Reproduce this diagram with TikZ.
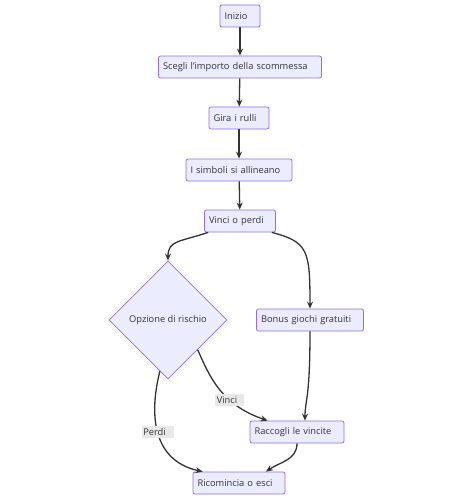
\documentclass[tikz,border=0pt]{standalone}
\usepackage{fontspec}
\setmainfont{Open Sans}
\usetikzlibrary{shapes.geometric,arrows.meta}
\definecolor{boxfill}{HTML}{ECECFF}
\definecolor{boxline}{HTML}{9370DB}
\definecolor{edgeline}{HTML}{333333}
\definecolor{labelbg}{HTML}{E8E8E8}
\tikzset{
  stepbox/.style={draw=boxline,fill=boxfill,rounded corners=2pt,line width=0.8pt,
    minimum height=22pt,inner xsep=4.5pt,inner ysep=0pt,align=left,
    font=\fontsize{9.3}{11}\selectfont,text=edgeline,text width=#1},
  choice/.style={draw=boxline,fill=boxfill,line width=0.8pt,shape=diamond,aspect=1,
    minimum width=118pt,minimum height=118pt,inner sep=0pt,
    font=\fontsize{9.3}{11}\selectfont,text=edgeline},
  flow/.style={draw=edgeline,line width=1.3pt,-{Stealth[length=7pt,width=6pt]}},
  tag/.style={fill=labelbg,text=edgeline,inner xsep=1.5pt,inner ysep=0pt,minimum height=12pt,
    align=left,font=\fontsize{9.3}{11}\selectfont,text width=#1}
}
\begin{document}
\begin{tikzpicture}[x=1pt,y=-1pt]
			\useasboundingbox[fill=white] (0,0) rectangle (473,500);
			\node[stepbox=31pt] (start) at (240,16) {Inizio};
			\node[stepbox=154pt] (bet) at (240,67) {Scegli l'importo della scommessa};
			\node[stepbox=51pt] (spin) at (239,118) {Gira i rulli};
			\node[stepbox=97pt] (line) at (239,170) {I simboli si allineano};
			\node[stepbox=62pt] (result) at (240,221) {Vinci o perdi};
			\node[choice] (risk) at (168,320) {Opzione di rischio};
			\node[stepbox=98pt] (bonus) at (310,320) {Bonus giochi gratuiti};
			\node[stepbox=85pt] (collect) at (297,432) {Raccogli le vincite};
			\node[stepbox=83pt] (again) at (239,483) {Ricomincia o esci};
			
			\draw[flow] (start) -- (bet);
			\draw[flow] (bet) -- (spin);
			\draw[flow] (spin) -- (line);
			\draw[flow] (line) -- (result);
			\draw[flow] ([xshift=4pt]result.south west) .. controls (180,242) and (168,240) .. (risk.north);
			\draw[flow] ([xshift=-4pt]result.south east) .. controls (308,242) and (310,250) .. (bonus.north);
			\draw[flow] (risk.-45) .. controls (210,378) and (222,405) .. ([xshift=18pt]collect.north west)
			  node[tag=26pt,pos=0.64] (win) {Vinci};
			\draw[flow] (risk.-99) .. controls (150,410) and (150,460) .. ([xshift=10pt]again.north west)
			  node[tag=29pt,pos=0.5] (lose) {Perdi};
			\draw[flow] (bonus.south) .. controls (310,400) and (305,400) .. ([xshift=8pt]collect.north);
			\draw[flow] (collect.south) .. controls (297,460) and (280,462) .. ([xshift=27pt]again.north);
			\end{tikzpicture}
\end{document}
